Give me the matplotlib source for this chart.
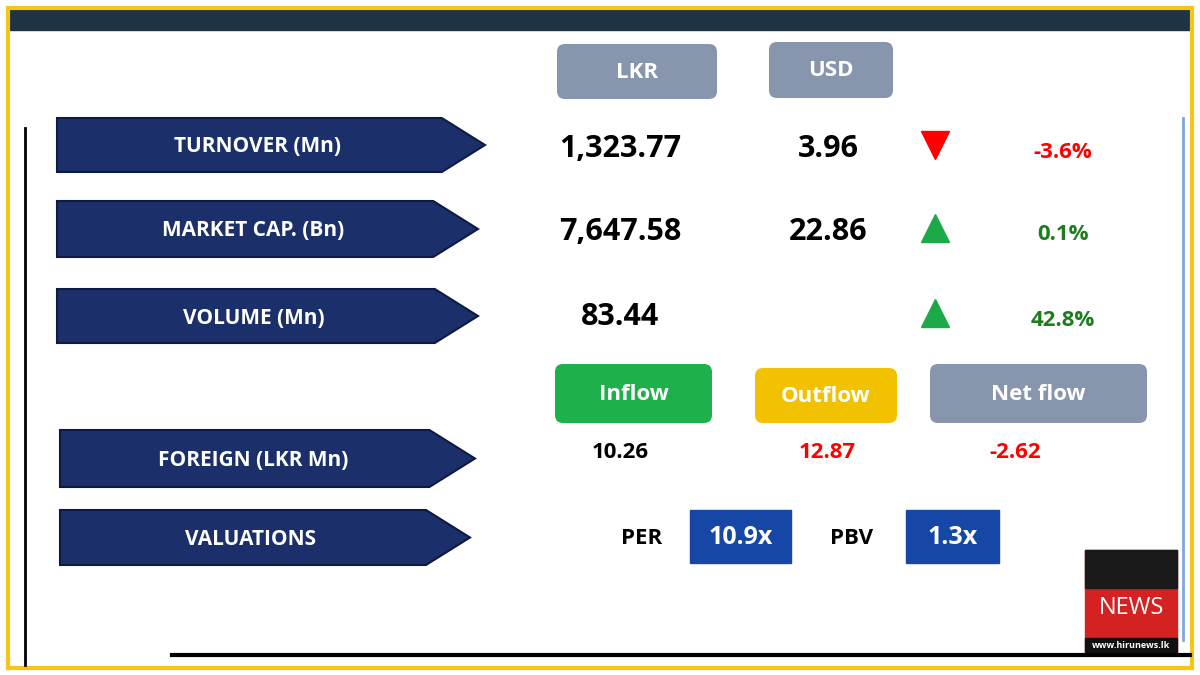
import matplotlib
matplotlib.use("Agg")
import matplotlib.pyplot as plt
from matplotlib.patches import Rectangle, FancyBboxPatch, Polygon

plt.rcParams['font.family'] = ['Open Sans', 'DejaVu Sans']

row_labels = ["TURNOVER (Mn)", "MARKET CAP. (Bn)", "VOLUME (Mn)"]
lkr_values = ["1,323.77", "7,647.58", "83.44"]
usd_values = ["3.96", "22.86", ""]
changes = [-3.6, 0.1, 42.8]
flow_labels = ["Inflow", "Outflow", "Net flow"]
foreign_values = ["10.26", "12.87", "-2.62"]
valuation_labels = ["PER", "PBV"]
valuation_values = ["10.9x", "1.3x"]

fig = plt.figure(figsize=(12, 6.75), dpi=100)
ax = fig.add_axes([0, 0, 1, 1])
ax.set_xlim(0, 1200); ax.set_ylim(675, 0); ax.axis('off')

ax.add_patch(Rectangle((10, 10), 1180, 20, color='#1F3347'))
ax.add_patch(Rectangle((8, 8), 1184, 660, fill=False, ec='#F5C518', lw=3))
ax.plot([25, 25], [128, 665], color='black', lw=2)
ax.plot([172, 1190], [655, 655], color='black', lw=3)
ax.plot([1183, 1183], [118, 640], color='#7FA7E0', lw=2)

def button(x0, y0, x1, y1, color, text, tc='white'):
    ax.add_patch(FancyBboxPatch((x0, y0), x1 - x0, y1 - y0,
                                boxstyle="round,pad=0,rounding_size=8", fc=color, ec='none'))
    ax.text((x0 + x1) / 2, (y0 + y1) / 2 + 1, text, ha='center', va='center',
            fontsize=16, fontweight='bold', color=tc)

button(557, 44, 717, 99, '#8796AD', "LKR")
button(769, 42, 893, 98, '#8796AD', "USD")

def arrow(x0, y0, x1, y1, text):
    h = y1 - y0
    ax.add_patch(Polygon([(x0, y0), (x1 - h * 0.8, y0), (x1, (y0 + y1) / 2),
                          (x1 - h * 0.8, y1), (x0, y1)], closed=True,
                         fc='#1B2F6B', ec='#0E1A40', lw=1.5))
    ax.text(x0 + (x1 - h * 0.8 - x0) / 2 + 8, (y0 + y1) / 2 + 2, text, ha='center',
            va='center', fontsize=15, fontweight='bold', color='white')

arrow_boxes = [(57, 118, 485, 172), (57, 201, 478, 257), (57, 289, 478, 343)]
row_y = [147, 230, 315]
for i, lab in enumerate(row_labels):
    arrow(*arrow_boxes[i], lab)
    ax.text(620, row_y[i] + 2, lkr_values[i], ha='center', va='center', fontsize=22,
            fontweight='bold', color='black')
    if usd_values[i]:
        ax.text(828, row_y[i] + 2, usd_values[i], ha='center', va='center', fontsize=22,
                fontweight='bold', color='black')
    up = changes[i] >= 0
    col = '#1DA84A' if up else '#FF0000'
    tc = '#1E7D1E' if up else '#FF0000'
    ax.plot(935, row_y[i] - 2, marker='^' if up else 'v', ms=20, color=col, mec=col)
    ax.text(1063, row_y[i] + 5, f"{changes[i]:.1f}%", ha='center', va='center',
            fontsize=16, fontweight='bold', color=tc)

flow_boxes = [(555, 364, 712, 423, '#1DB04B'), (755, 368, 897, 423, '#F2C200'),
              (930, 364, 1147, 423, '#8796AD')]
for (x0, y0, x1, y1, c), lab in zip(flow_boxes, flow_labels):
    button(x0, y0, x1, y1, c, lab)

arrow(60, 430, 475, 487, "FOREIGN (LKR Mn)")
arrow(60, 510, 470, 565, "VALUATIONS")

fx = [620, 827, 1015]
fcol = ['black', '#FF0000', '#FF0000']
for x, v, c in zip(fx, foreign_values, fcol):
    ax.text(x, 453, v, ha='center', va='center', fontsize=16, fontweight='bold', color=c)

vl_x = [642, 852]
vb = [(690, 510, 791, 563), (906, 510, 999, 563)]
for x, lab, (x0, y0, x1, y1), val in zip(vl_x, valuation_labels, vb, valuation_values):
    ax.text(x, 538, lab, ha='center', va='center', fontsize=16, fontweight='bold')
    ax.add_patch(Rectangle((x0, y0), x1 - x0, y1 - y0, color='#1747A6'))
    ax.text((x0 + x1) / 2, 538, val, ha='center', va='center', fontsize=18,
            fontweight='bold', color='white')

# logo
ax.add_patch(Rectangle((1085, 550), 92, 102, color='#D42222'))
ax.add_patch(Rectangle((1085, 550), 92, 38, color='#1A1A1A'))
ax.add_patch(Rectangle((1085, 638), 92, 14, color='#111111'))
ax.text(1131, 608, "NEWS", ha='center', va='center', fontsize=17, color='white')
ax.text(1131, 645, "www.hirunews.lk", ha='center', va='center', fontsize=6.5,
        color='white', fontweight='bold')

fig.savefig("out.png", dpi=100)
